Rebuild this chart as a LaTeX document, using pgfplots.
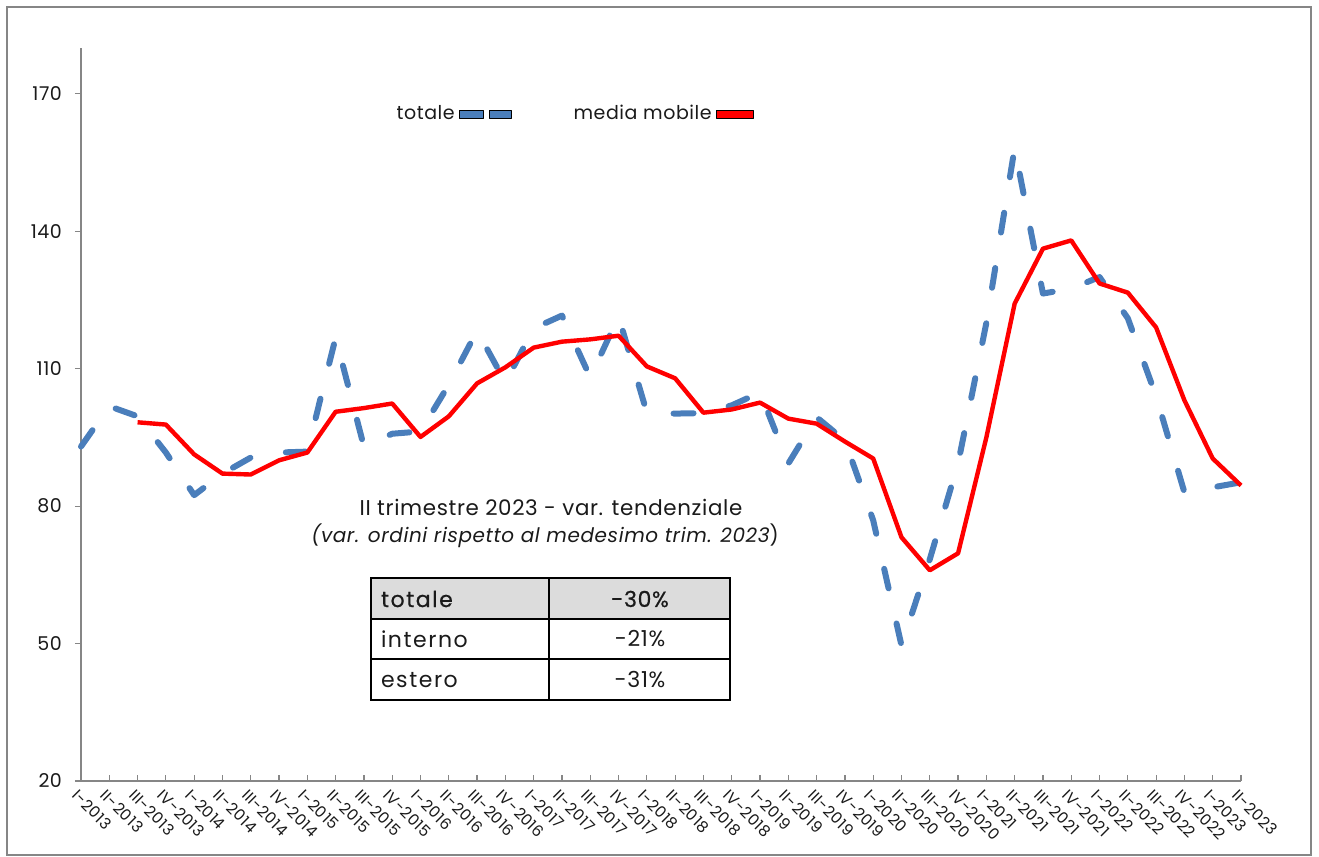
\documentclass[border=0pt]{standalone}
\usepackage{pgfplots}
\usepackage{pgfplotstable}
\pgfplotsset{compat=1.18}
\usepackage{fontspec}
\setmainfont{Poppins}[LetterSpace=3]
\definecolor{bl}{HTML}{4A7EBB}
\definecolor{axgray}{HTML}{868686}
\definecolor{txt}{HTML}{1A1A1A}
\definecolor{hdr}{HTML}{DCDCDC}

\pgfplotstableread{
x tot
0 93.0
1 101.8
2 99.6
3 91.7
4 82.4
5 87.1
6 90.6
7 91.7
8 91.9
9 116.8
10 93.0
11 95.8
12 96.3
13 106.5
14 118.3
15 107.0
16 118.8
17 121.6
18 108.1
19 121.4
20 100.4
21 100.2
22 100.3
23 102.0
24 104.8
25 89.3
26 99.4
27 94.3
28 76.9
29 49.6
30 68.4
31 89.3
32 120.0
33 158.2
34 126.4
35 127.5
36 130.0
37 121.0
38 104.0
39 83.0
40 84.1
41 85.2
}\datatot

\pgfplotstableread{
x mm
2 98.3
3 97.8
4 91.3
5 87.1
6 86.9
7 90.0
8 91.7
9 100.6
10 101.4
11 102.4
12 95.1
13 99.6
14 106.8
15 110.3
16 114.6
17 115.9
18 116.4
19 117.2
20 110.5
21 107.9
22 100.4
23 101.1
24 102.6
25 99.1
26 98.0
27 94.1
28 90.4
29 73.2
30 66.0
31 69.7
32 95.0
33 124.2
34 136.2
35 138.0
36 128.6
37 126.6
38 119.0
39 103.1
40 90.4
41 84.5
}\datamm

\begin{document}
\begin{tikzpicture}
\useasboundingbox (0,0) rectangle (659.5pt,-428.5pt);
\begin{axis}[
  at={(40.5pt,-390.5pt)}, anchor=south west,
  scale only axis, width=580pt, height=366.5pt,
  xmin=0, xmax=41, ymin=20, ymax=180,
  axis x line=bottom, axis y line=left,
  axis line style={draw=axgray, line width=0.8pt, -},
  xtick={0,...,41},
  xticklabels={I-2013,II-2013,III-2013,IV-2013,I-2014,II-2014,III-2014,IV-2014,I-2015,II-2015,III-2015,IV-2015,I-2016,II-2016,III-2016,IV-2016,I-2017,II-2017,III-2017,IV-2017,I-2018,II-2018,III-2018,IV-2018,I-2019,II-2019,III-2019,IV-2019,I-2020,II-2020,III-2020,IV-2020,I-2021,II-2021,III-2021,IV-2021,I-2022,II-2022,III-2022,IV-2022,I-2023,II-2023},
  ytick={20,50,80,110,140,170},
  xtick align=inside, ytick align=outside,
  major tick length=3pt,
  tick style={draw=axgray, line width=0.6pt},
  /pgf/number format/assume math mode=true,
  yticklabel style={font=\fontsize{9.5}{11}\selectfont, text=txt, xshift=-3pt},
  xticklabel style={rotate=-45, anchor=north west, font=\fontsize{7.8}{9}\selectfont, text=txt, inner sep=1pt, xshift=1pt, yshift=-2pt},
  legend plot pos=right,
  legend columns=2,
  legend style={at={(axis cs:11,165.6)}, anchor=west, draw=none, fill=none,
     font=\fontsize{9.5}{11}\selectfont, text=txt, inner sep=0pt,
     /tikz/every even column/.append style={column sep=0pt}},
  clip=false,
]
\addplot[bl, line width=3pt, dash pattern=on 10pt off 18pt, line cap=round, line join=round,
  legend image code/.code={
    \draw[solid, line cap=butt, fill=bl, draw=black, line width=0.4pt] (0pt,-2pt) rectangle (12pt,2pt);
    \draw[solid, line cap=butt, fill=bl, draw=black, line width=0.4pt] (15pt,-2pt) rectangle (26pt,2pt);
  }] table[x=x, y=tot] {\datatot};
\addlegendentry{totale}
\addplot[red, line width=2.2pt, line join=round,
  legend image code/.code={
    \draw[solid, line cap=butt, fill=red, draw=black, line width=0.4pt] (0pt,-2pt) rectangle (18.5pt,2pt);
  }] table[x=x, y=mm] {\datamm};
\addlegendentry{\hspace{29pt}media mobile}
\end{axis}
\begin{scope}[x=0.5pt, y=-0.5pt]
\draw[axgray, line width=1.2pt] (7,7) rectangle (1311,855);
\node[font=\fontsize{10.7}{13}\selectfont, text=txt] at (551,507) {II trimestre 2023 - var. tendenziale};
\node[font=\fontsize{10}{13}\selectfont, text=txt] at (545,536) {\itshape (var. ordini rispetto al medesimo trim. 2023\upshape)};
\fill[hdr] (371,578) rectangle (730,619);
\draw[black, line width=1pt] (371,578) rectangle (730,700);
\draw[black, line width=1pt] (371,619) -- (730,619) (371,659) -- (730,659) (549,578) -- (549,700);
\begin{scope}[every node/.style={font=\fontsize{11}{13}\selectfont, text=txt}]
\node[anchor=west] at (374,599) {\addfontfeature{LetterSpace=7, FakeBold=0.6}totale};
\node at (640,599) {\addfontfeature{FakeBold=0.6}-30\%};
\node[anchor=west] at (374,639) {\addfontfeature{LetterSpace=7}interno};
\node at (640,639) {-21\%};
\node[anchor=west] at (374,680) {\addfontfeature{LetterSpace=7}estero};
\node at (640,680) {-31\%};
\end{scope}
\end{scope}
\end{tikzpicture}
\end{document}
